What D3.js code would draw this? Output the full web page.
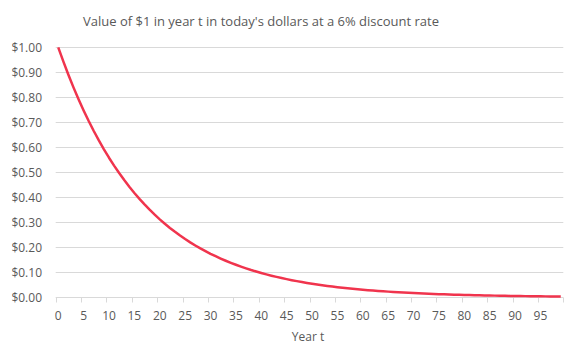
<!DOCTYPE html>
<html>
<head>
<meta charset="utf-8">
<script src="https://cdn.jsdelivr.net/npm/d3@7"></script>
<style>
  body { margin: 0; background: #fff; }
  text { font-family: "Open Sans", sans-serif; fill: #595959; }
</style>
</head>
<body>
<div id="chart"></div>
<script>
/**
 * DATA
 * */
const years = d3.range(0, 100);
const values = [
  1.0000, 0.9434, 0.8900, 0.8396, 0.7921, 0.7473, 0.7050, 0.6651, 0.6274, 0.5919,
  0.5584, 0.5268, 0.4970, 0.4688, 0.4423, 0.4173, 0.3936, 0.3714, 0.3503, 0.3305,
  0.3118, 0.2942, 0.2775, 0.2618, 0.2470, 0.2330, 0.2198, 0.2074, 0.1956, 0.1846,
  0.1741, 0.1643, 0.1550, 0.1462, 0.1379, 0.1301, 0.1227, 0.1158, 0.1092, 0.1031,
  0.0972, 0.0917, 0.0865, 0.0816, 0.0770, 0.0727, 0.0685, 0.0647, 0.0610, 0.0575,
  0.0543, 0.0512, 0.0483, 0.0456, 0.0430, 0.0406, 0.0383, 0.0361, 0.0341, 0.0321,
  0.0303, 0.0286, 0.0270, 0.0255, 0.0240, 0.0227, 0.0214, 0.0202, 0.0190, 0.0179,
  0.0169, 0.0160, 0.0151, 0.0142, 0.0134, 0.0126, 0.0119, 0.0113, 0.0106, 0.0100,
  0.0095, 0.0089, 0.0084, 0.0079, 0.0075, 0.0071, 0.0067, 0.0063, 0.0059, 0.0056,
  0.0053, 0.0050, 0.0047, 0.0044, 0.0042, 0.0039, 0.0037, 0.0035, 0.0033, 0.0031
];
const xTickLabels = d3.range(0, 100, 5);
const yTicks = [0, 0.1, 0.2, 0.3, 0.4, 0.5, 0.6, 0.7, 0.8, 0.9, 1.0];
const title = "Value of $1 in year t in today's dollars at a 6% discount rate";
const xTitle = "Year t";

/**
 * CONSTANTS
 * */
const width = 583, height = 363;
const plot = { left: 55.7, right: 563.3, top: 47.3, bottom: 297.3 };

const svg = d3.select("#chart").append("svg")
  .attr("width", width)
  .attr("height", height);

const x = d3.scaleBand().domain(years).range([plot.left, plot.right]).padding(0);
const y = d3.scaleLinear().domain([0, 1]).range([plot.bottom, plot.top]);
const fmt = d => "$" + d3.format(".2f")(d);

// gridlines
svg.append("g")
  .selectAll("line")
  .data(yTicks.slice(1))
  .join("line")
  .attr("x1", plot.left).attr("x2", plot.right)
  .attr("y1", d => Math.round(y(d)) + 0.5).attr("y2", d => Math.round(y(d)) + 0.5)
  .attr("stroke", "#d9d9d9").attr("stroke-width", 1);

// y labels
svg.append("g")
  .selectAll("text")
  .data(yTicks)
  .join("text")
  .attr("x", 42)
  .attr("y", d => y(d))
  .attr("dy", "0.35em")
  .attr("text-anchor", "end")
  .style("font-size", "12px")
  .text(fmt);

// x axis line + ticks at category boundaries
const xAxisY = Math.round(plot.bottom) + 0.5;
svg.append("line")
  .attr("x1", plot.left).attr("x2", plot.right)
  .attr("y1", xAxisY).attr("y2", xAxisY)
  .attr("stroke", "#d9d9d9");
const tickPos = xTickLabels.map(d => x(d)).concat([plot.right]);
svg.append("g")
  .selectAll("line")
  .data(tickPos)
  .join("line")
  .attr("x1", d => Math.round(d) + 0.5).attr("x2", d => Math.round(d) + 0.5)
  .attr("y1", xAxisY).attr("y2", xAxisY + 5)
  .attr("stroke", "#d9d9d9");

// x labels centred on categories
svg.append("g")
  .selectAll("text")
  .data(xTickLabels)
  .join("text")
  .attr("x", d => x(d) + x.bandwidth() / 2)
  .attr("y", 316)
  .attr("dy", "0.35em")
  .attr("text-anchor", "middle")
  .style("font-size", "12px")
  .text(d => d);

// line
const line = d3.line()
  .x((d, i) => x(years[i]) + x.bandwidth() / 2)
  .y(d => y(d));

svg.append("path")
  .datum(values)
  .attr("d", line)
  .attr("fill", "none")
  .attr("stroke", "#f0344d")
  .attr("stroke-width", 2.5)
  .attr("stroke-linejoin", "round");

// titles
svg.append("text")
  .attr("x", 261)
  .attr("y", 21)
  .attr("dy", "0.35em")
  .attr("text-anchor", "middle")
  .style("font-size", "13px")
  .text(title);

svg.append("text")
  .attr("x", 308)
  .attr("y", 337)
  .attr("dy", "0.35em")
  .attr("text-anchor", "middle")
  .style("font-size", "12px")
  .text(xTitle);
</script>
</body>
</html>
